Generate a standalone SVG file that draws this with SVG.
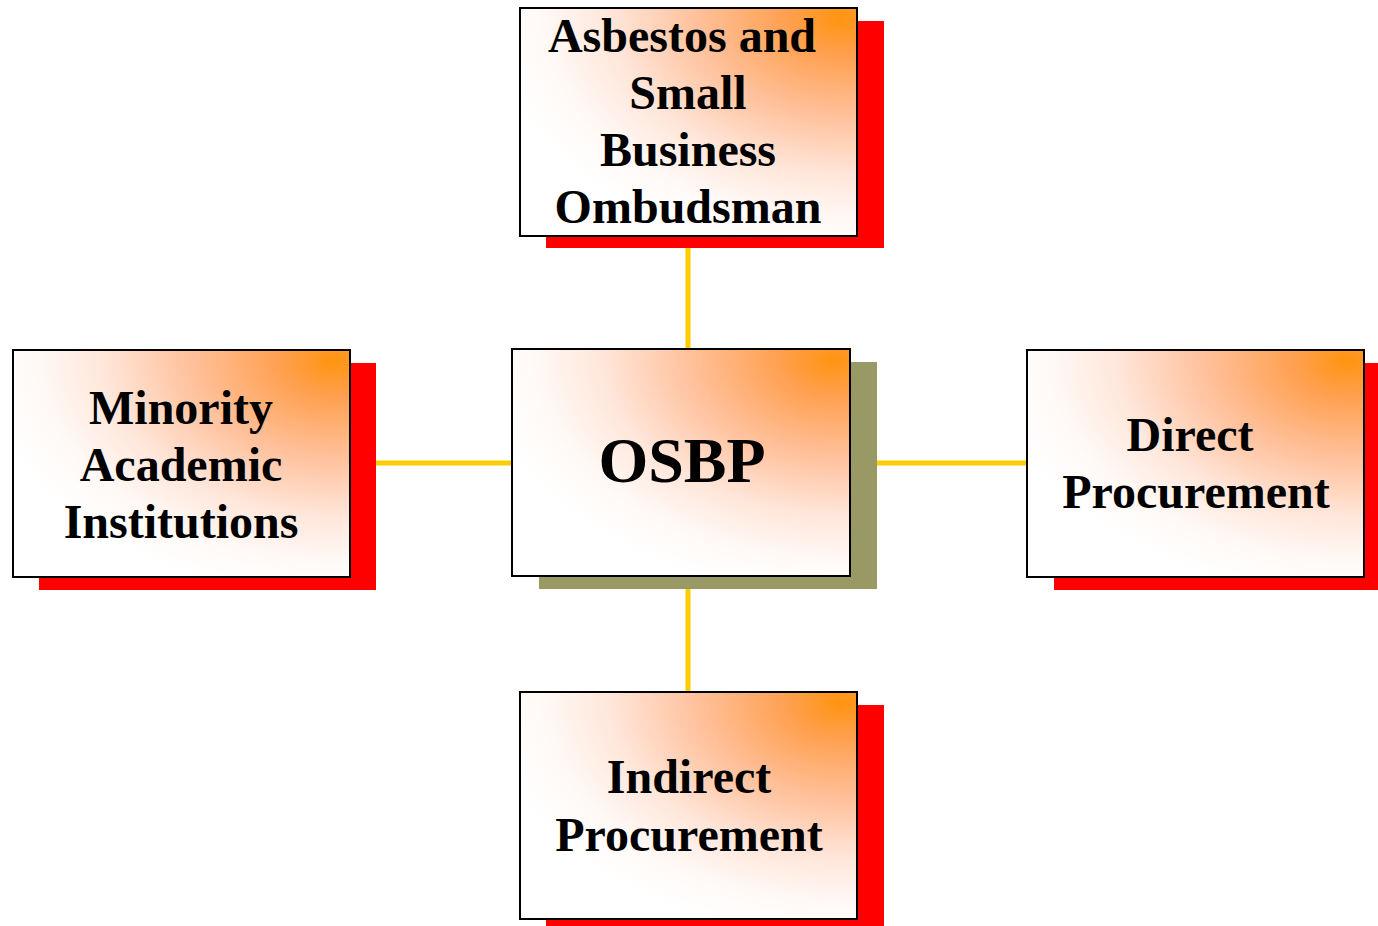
<svg xmlns="http://www.w3.org/2000/svg" width="1378" height="926" viewBox="0 0 1378 926">
<defs>
<radialGradient id="g" cx="1" cy="0" r="1.1" fx="0.95" fy="0.05">
<stop offset="0" stop-color="#FF9410"/>
<stop offset="0.15" stop-color="#FFA050"/>
<stop offset="0.4" stop-color="#FFC09A"/>
<stop offset="0.65" stop-color="#FFE6DA"/>
<stop offset="0.85" stop-color="#FFFAF7"/>
<stop offset="1" stop-color="#FFFFFF"/>
</radialGradient>
</defs>
<style>
.box{fill:url(#g);stroke:#000;stroke-width:2}
.sh{fill:#FF0000}
.sh2{fill:#999966}
.t{font-family:"Liberation Serif",serif;font-weight:bold;font-size:48px;text-anchor:middle;fill:#000}
.big{font-size:64px}
.c{stroke:#FFCC00;stroke-width:5;fill:none}
</style>
<rect width="1378" height="926" fill="#fff"/>
<g id="connectors">
<line class="c" x1="688" y1="248" x2="688" y2="349"/>
<line class="c" x1="688" y1="589" x2="688" y2="692"/>
<line class="c" x1="376" y1="463" x2="512" y2="463"/>
<line class="c" x1="877" y1="463" x2="1027" y2="463"/>
</g>
<g id="asbestos">
<rect class="sh" x="546" y="21" width="338" height="227"/>
<rect class="box" x="520" y="8" width="337" height="228"/>
<text class="t"><tspan x="682" y="52">Asbestos and</tspan><tspan x="688" y="109">Small</tspan><tspan x="688" y="166">Business</tspan><tspan x="688" y="223">Ombudsman</tspan></text>
</g>
<g id="osbp">
<rect class="sh2" x="539" y="362" width="338" height="227"/>
<rect class="box" x="512" y="349" width="338" height="227"/>
<text class="t big" x="682" y="482">OSBP</text>
</g>
<g id="minority">
<rect class="sh" x="39" y="363" width="337" height="227"/>
<rect class="box" x="13" y="350" width="337" height="227"/>
<text class="t"><tspan x="181" y="424">Minority</tspan><tspan x="181" y="481">Academic</tspan><tspan x="181" y="538">Institutions</tspan></text>
</g>
<g id="direct">
<rect class="sh" x="1054" y="363" width="324" height="227"/>
<rect class="box" x="1027" y="350" width="337" height="227"/>
<text class="t"><tspan x="1190" y="451">Direct</tspan><tspan x="1196" y="508">Procurement</tspan></text>
</g>
<g id="indirect">
<rect class="sh" x="546" y="705" width="338" height="221"/>
<rect class="box" x="520" y="692" width="337" height="227"/>
<text class="t"><tspan x="689" y="793">Indirect</tspan><tspan x="689" y="851">Procurement</tspan></text>
</g>
</svg>
